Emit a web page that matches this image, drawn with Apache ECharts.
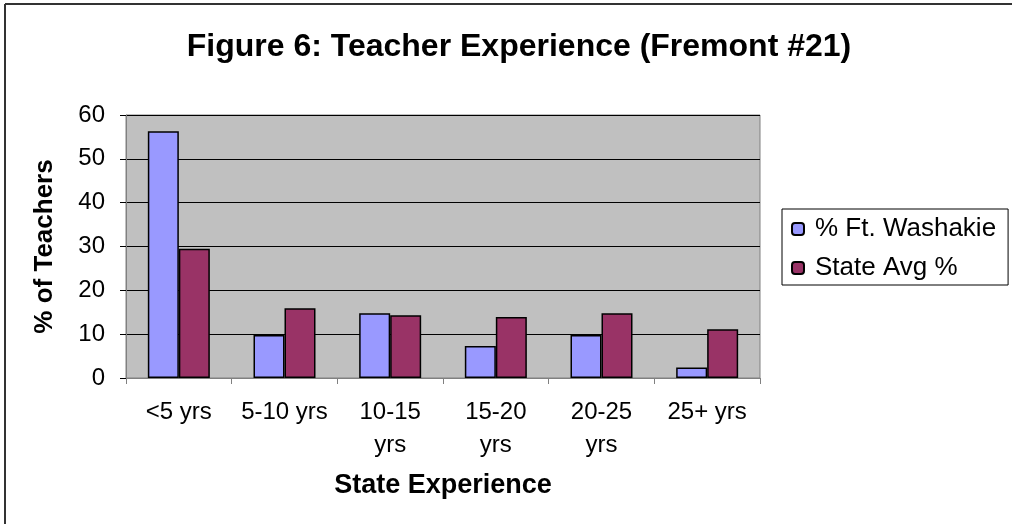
<!DOCTYPE html>
<html>
<head>
<meta charset="utf-8">
<script src="https://cdn.jsdelivr.net/npm/echarts@6/dist/echarts.min.js"></script>
<style>
  html, body { margin: 0; padding: 0; background: #fff; }
  #chart { width: 1013px; height: 524px; }
</style>
</head>
<body>
<div id="chart"></div>
<script>
// data
var categories = ['<5 yrs', '5-10 yrs', '10-15 yrs', '15-20 yrs', '20-25 yrs', '25+ yrs'];
var washakie = [56.3, 9.8, 14.8, 7.3, 9.8, 2.4];
var stateAvg = [29.5, 15.9, 14.3, 13.9, 14.8, 11.1];
var seriesNames = ['% Ft. Washakie', 'State Avg %'];

var FONT = '"Liberation Sans", Arial, sans-serif';

var myChart = echarts.init(document.getElementById('chart'));

var option = {
    animation: false,
    textStyle: { fontFamily: FONT },
    title: {
        text: 'Figure 6: Teacher Experience (Fremont #21)',
        left: 514,
        textAlign: 'center',
        top: 26,
        textStyle: { fontFamily: FONT, fontSize: 32, fontWeight: 'bold', color: '#000' }
    },
    // outer frame (only top and left edges are visible)
    graphic: [
        { type: 'line', shape: { x1: 5, y1: 4, x2: 5, y2: 524 }, style: { stroke: '#333', lineWidth: 2 } },
        { type: 'line', shape: { x1: 5, y1: 4, x2: 1012, y2: 4 }, style: { stroke: '#333', lineWidth: 2 } }
    ],
    legend: {
        orient: 'vertical',
        left: 782,
        top: 209,
        itemWidth: 12,
        itemHeight: 12,
        itemGap: 13,
        padding: [7, 12, 4, 9],
        borderColor: '#000',
        borderWidth: 1,
        textStyle: { fontFamily: FONT, fontSize: 26, color: '#000', padding: [0, 0, 0, 6] },
        data: seriesNames
    },
    grid: {
        left: 126,
        right: 253,
        top: 115,
        bottom: 146,
        show: true,
        backgroundColor: '#c0c0c0',
        borderColor: '#808080',
        borderWidth: 1
    },
    xAxis: {
        type: 'category',
        data: categories,
        name: 'State Experience',
        nameLocation: 'middle',
        nameGap: 94,
        nameTextStyle: { fontFamily: FONT, fontSize: 27, fontWeight: 'bold', color: '#000' },
        axisLine: { lineStyle: { color: '#808080', width: 1 } },
        axisTick: { show: true, length: 6, inside: false, lineStyle: { color: '#808080' } },
        axisLabel: {
            interval: 0,
            hideOverlap: false,
            margin: 18,
            fontSize: 24,
            lineHeight: 33,
            color: '#000',
            fontFamily: FONT,
            formatter: function (v) { return v.length > 8 ? v.replace(' ', '\n') : v; }
        }
    },
    yAxis: {
        type: 'value',
        min: 0,
        max: 60,
        interval: 10,
        name: '% of Teachers',
        nameLocation: 'middle',
        nameGap: 68,
        nameTextStyle: { fontFamily: FONT, fontSize: 26, fontWeight: 'bold', color: '#000' },
        axisLine: { show: true, lineStyle: { color: '#808080', width: 1 } },
        axisTick: { show: true, length: 6, lineStyle: { color: '#000' } },
        axisLabel: { margin: 21, fontSize: 24, color: '#000', fontFamily: FONT },
        splitLine: { show: true, lineStyle: { color: '#000', width: 1 } }
    },
    series: [
        {
            name: seriesNames[0],
            type: 'bar',
            data: washakie,
            barWidth: 31,
            barGap: '0%',
            itemStyle: { color: '#9999ff', borderColor: '#000', borderWidth: 1.5 }
        },
        {
            name: seriesNames[1],
            type: 'bar',
            data: stateAvg,
            barWidth: 31,
            itemStyle: { color: '#993366', borderColor: '#000', borderWidth: 1.5 }
        }
    ]
};

myChart.setOption(option);
</script>
</body>
</html>
